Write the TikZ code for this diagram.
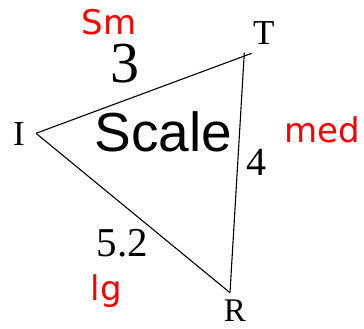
\documentclass[tikz,border=0pt]{standalone}
\usepackage{fontspec}
\setmainfont{Liberation Serif}
\newfontfamily\arialfont{Liberation Sans}
\newfontfamily\handfont{DejaVu Sans}
\definecolor{penred}{RGB}{255,0,0}
\begin{document}
\begin{tikzpicture}[x=1pt,y=-1pt,
  edge/.style={line width=1.1pt,black},
  vlabel/.style={inner sep=0pt,anchor=base,font=\fontsize{35}{35}\selectfont},
  slabel/.style={inner sep=0pt,anchor=base},
  hand/.style={inner sep=0pt,anchor=base,text=penred,font=\handfont\fontsize{34}{34}\selectfont}]
\useasboundingbox (0,0) rectangle (364,329);
% vertices
\coordinate (I) at (36,133.3);
\coordinate (T1) at (251.7,53.3);
\coordinate (T2) at (244.3,52.7);
\coordinate (R) at (230,292.7);
% sides
\draw[edge] (I) -- (T1);
\draw[edge] (T2) -- (R);
\draw[edge] (I) -- (R);
% vertex labels
\node[vlabel] (lT) at (263.8,45) {T};
\node[vlabel] (lI) at (19,145) {I};
\node[vlabel,font=\fontsize{33}{33}\selectfont] (lR) at (235,321.5) {R};
% side lengths
\node[slabel,font=\fontsize{58}{58}\selectfont] (s3) at (125,82) {3};
\node[slabel,font=\fontsize{40}{40}\selectfont] (s4) at (256.7,175) {4};
\node[slabel,font=\fontsize{41}{41}\selectfont] (s52) at (122.5,256.7) {5.2};
% title
\node[slabel,font=\arialfont\fontsize{55}{55}\selectfont] (scale) at (163.3,151.5) {Scale};
% handwritten notes
\node[hand] (sm) at (109,34.5) {Sm};
\node[hand] (med) at (322.5,142) {med};
\node[hand] (lg) at (106.5,300) {lg};
\end{tikzpicture}
\end{document}
